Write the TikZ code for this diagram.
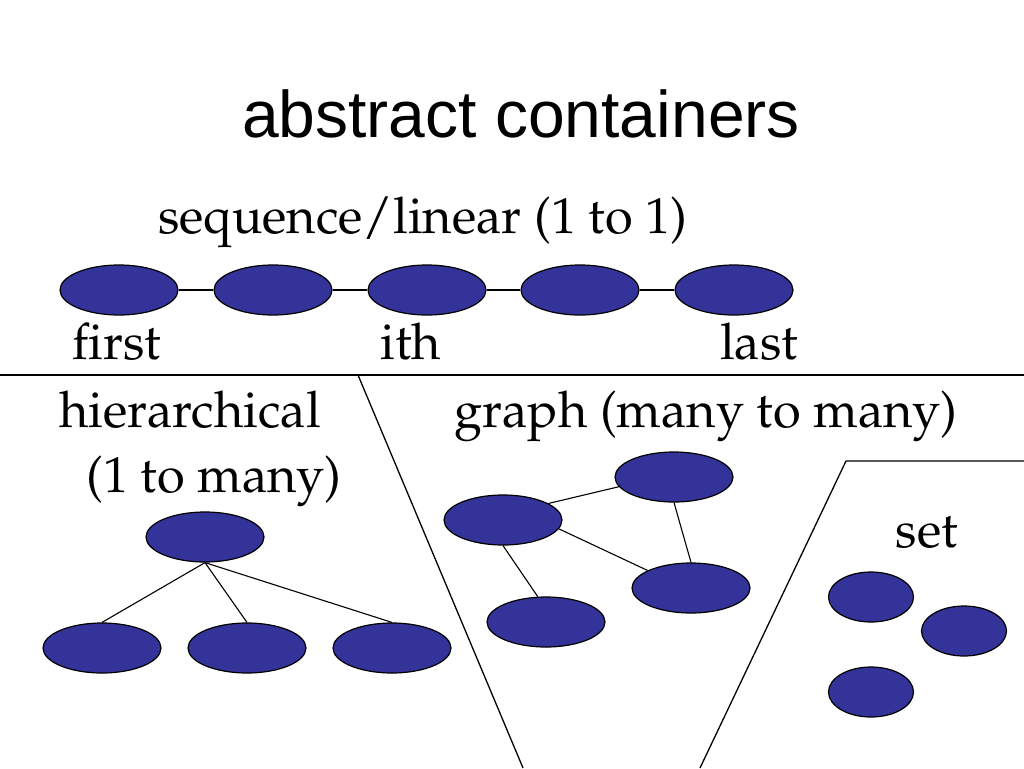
\documentclass[tikz,border=0pt]{standalone}
\usepackage{fontspec}
\usepackage[T1,TU]{fontenc}
\usetikzlibrary{shapes.geometric}
\newfontfamily\titlefont{Liberation Sans}
\newcommand\bodyfont{\fontencoding{T1}\fontfamily{ppl}\fontsize{50.5}{60}\selectfont}
\definecolor{blobblue}{RGB}{51,51,153}

\begin{document}
\begin{tikzpicture}[x=1pt, y=-1pt,
  blob/.style = {ellipse, draw, fill=blobblue, line width=1.2pt,
    minimum width=118pt, minimum height=50pt, inner sep=0pt},
  small blob/.style = {blob, minimum width=85pt},
  caption/.style = {anchor=base, inner sep=0pt, font=\bodyfont},
  divider/.style = {line width=1.3pt},
  link/.style = {line width=1.1pt}]
  \useasboundingbox (0,0) rectangle (1024,768);

  \node[anchor=base, inner sep=0pt, font=\titlefont\fontsize{66}{74}\selectfont]
    (title) at (521,137) {abstract containers};

  % sequence
  \node[caption] (seqtitle) at (423,233) {sequence/linear (1 to 1)};
  \foreach \i/\x in {1/119,2/273,3/427,4/580,5/734}
    \node[blob] (s\i) at (\x,290) {};
  \foreach \i/\j in {1/2,2/3,3/4,4/5}
    \draw[link] (s\i) -- (s\j);
  \node[caption] (first) at (117,359) {first};
  \node[caption] (ith) at (411,359) {ith};
  \node[caption] (last) at (759,359) {last};

  % separators
  \draw[divider] (0,375) -- (1024,375);
  \draw[divider] (358,375) -- (523,768);
  \draw[divider] (1024,461) -- (846,461) -- (700,768);

  % hierarchical
  \node[caption] (hiertitle) at (190,427) {hierarchical};
  \node[caption] (hiersub) at (214,492) {(1 to many)};
  \node[blob] (root) at (205,537) {};
  \foreach \i/\x in {1/102,2/247,3/392} {
    \node[blob] (c\i) at (\x,648) {};
    \draw[link] (root.south) -- (c\i.north);
  }

  % graph
  \node[caption] (graphtitle) at (706,427) {graph (many to many)};
  \node[blob] (gl) at (503,520) {};
  \node[blob] (gt) at (674,477) {};
  \node[blob] (gr) at (691,588) {};
  \node[blob] (gb) at (546,622) {};
  \draw[link] (gl.20) -- (gt.190);
  \draw[link] (gl.-9) -- (gr.158);
  \draw[link] (gl.south) -- (gb.108);
  \draw[link] (gt.south) -- (gr.north);

  % set
  \node[caption] (settitle) at (927,547) {set};
  \node[small blob] (e1) at (871,597) {};
  \node[small blob] (e2) at (964,631) {};
  \node[small blob] (e3) at (871,692) {};
\end{tikzpicture}
\end{document}
